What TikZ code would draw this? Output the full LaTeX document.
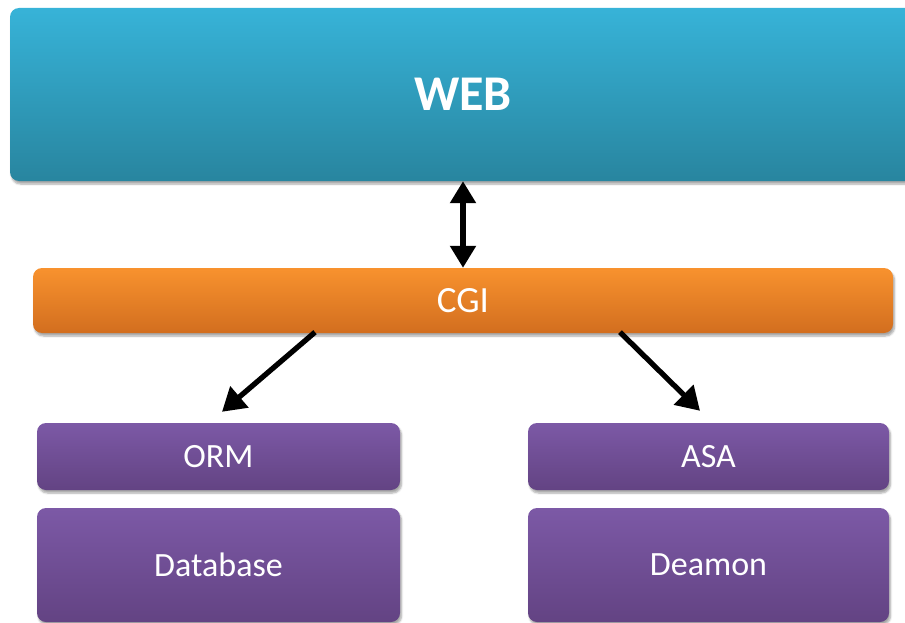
\documentclass[tikz,border=0pt]{standalone}
\usepackage{fontspec}
\setmainfont{Carlito}
\usetikzlibrary{arrows.meta,shadows.blur}
\definecolor{webtop}{HTML}{37B3D8}
\definecolor{webbot}{HTML}{28859F}
\definecolor{cgitop}{HTML}{F8922E}
\definecolor{cgibot}{HTML}{D26E1F}
\definecolor{purtop}{HTML}{7C59A6}
\definecolor{purbot}{HTML}{634383}
\tikzset{
  boxbase/.style={rounded corners=9pt, inner sep=0pt, text=white,
    blur shadow={shadow xshift=1.5pt, shadow yshift=-3pt, shadow blur steps=6, shadow opacity=35}},
  webbox/.style={boxbase, top color=webtop, bottom color=webbot, font=\fontsize{50}{54}\selectfont\bfseries},
  cgibox/.style={boxbase, top color=cgitop, bottom color=cgibot, font=\fontsize{37}{40}\selectfont},
  purbox/.style={boxbase, top color=purtop, bottom color=purbot, font=\fontsize{34}{38}\selectfont},
  conn/.style={line width=5.3pt, black},
  tipend/.style={-{Triangle[length=23pt,width=27pt]}},
  tipboth/.style={{Triangle[length=22pt,width=25pt]}-{Triangle[length=22pt,width=25pt]}}
}
\begin{document}
\begin{tikzpicture}[x=1pt,y=-1pt]
\useasboundingbox (0,0) rectangle (905,623);
\clip (0,0) rectangle (905,623);
\node[webbox, minimum width=906pt, minimum height=173pt] (web) at (463,94.5) {WEB};
\node[cgibox, minimum width=860pt, minimum height=65pt] (cgi) at (463,300.5) {CGI};
\node[purbox, minimum width=363pt, minimum height=67pt] (orm) at (218.5,456.5) {ORM};
\node[purbox, minimum width=363pt, minimum height=114pt] (db) at (218.5,565) {Database};
\node[purbox, minimum width=361pt, minimum height=67pt] (asa) at (708.5,456.5) {ASA};
\node[purbox, minimum width=361pt, minimum height=114pt] (dm) at (708.5,565) {Deamon};
\draw[conn, tipboth] (web.south) -- (cgi.north);
\draw[conn, tipend] ([xshift=-148pt,yshift=1pt]cgi.south) -- ([xshift=3.5pt,yshift=11pt]orm.north);
\draw[conn, tipend] ([xshift=157pt,yshift=1pt]cgi.south) -- ([xshift=-8.5pt,yshift=12pt]asa.north);
\end{tikzpicture}
\end{document}
